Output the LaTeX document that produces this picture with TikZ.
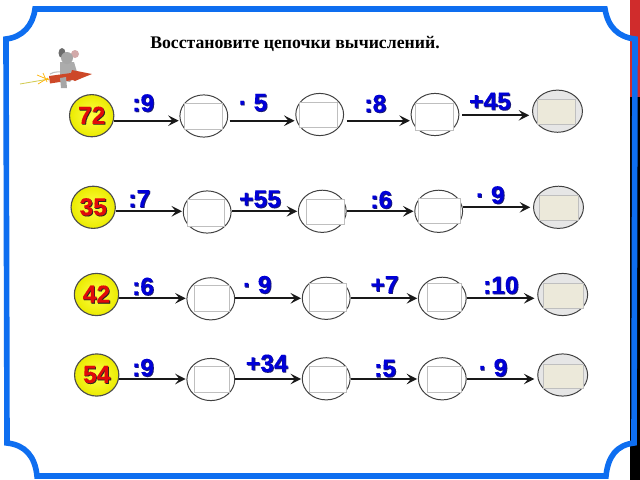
\documentclass[tikz,border=0pt]{standalone}
\usepackage{fontspec}
\setmainfont{Liberation Serif}
\newfontfamily\labelfont[FakeBold=0.25]{Liberation Sans Bold}
\usetikzlibrary{arrows.meta,shapes.geometric}
\definecolor{frameblue}{RGB}{14,110,240}
\definecolor{opblue}{RGB}{0,0,215}
\definecolor{opshade}{RGB}{30,30,110}
\definecolor{numred}{RGB}{225,10,10}
\definecolor{stripred}{RGB}{208,44,44}
\definecolor{rocketred}{RGB}{205,72,40}
\definecolor{greycell}{RGB}{230,230,230}
\definecolor{sandbox}{RGB}{236,233,218}
\tikzset{
	x=0.025cm, y=-0.025cm,
	startball/.style={ellipse, draw=black!70, line width=0.8pt, inner color=yellow!72!white, outer color=yellow!92!black, minimum width=31.5pt, minimum height=30pt, inner sep=0pt, font=\labelfont\fontsize{17.5}{17.5}\selectfont, text=numred},
	emptycell/.style={ellipse, draw=black!75, line width=0.7pt, fill=white, minimum width=34pt, minimum height=30pt, inner sep=0pt},
	lastcell/.style={emptycell, fill=greycell, minimum width=35.5pt},
	answerbox/.style={draw=black!25, line width=0.6pt, anchor=north west, inner sep=0pt},
	oplabel/.style={font=\labelfont\fontsize{17.5}{17.5}\selectfont, text=opblue, inner sep=0pt},
	link/.style={-{Stealth[length=7.5pt,width=7.5pt,inset=3pt]}, line width=1.7pt, black!90, shorten >=0.5pt}
}
\newcommand{\shadowed}[2]{\leavevmode\rlap{\kern0.6pt\raisebox{-0.6pt}{\textcolor{#1}{#2}}}#2}
% {box name}{x}{y}{width}{height}{fill}
\newcommand{\answer}[6]
{
	\node [answerbox, fill=#6, minimum width=#4*0.7113pt, minimum height=#5*0.7113pt] (#1) at (#2,#3) {};
}
% {from}{to}{y}
\newcommand{\link}[4][]
{
	\draw [link, #1] (#2.east |- 0,#4) -- (#3.west |- 0,#4);
}
\begin{document}
\begin{tikzpicture}
	\useasboundingbox (0,0) rectangle (640,480);

	% strip on the right
	\fill [stripred] (630,0) rectangle (640,96.5);
	\fill [black] (630,96.5) rectangle (640,480);

	% frame
	\draw [frameblue, line width=4pt] (35,9) -- (605,9)
		.. controls (608,27) and (618,37) .. (635,39) -- (634,443)
		.. controls (617,445) and (608,456) .. (606,476) -- (37,476)
		.. controls (35,456) and (25,445) .. (7,443) -- (6,39)
		.. controls (23,37) and (33,25) .. (35,9) -- cycle;

	\node [font=\bfseries\fontsize{12.6}{14}\selectfont, inner sep=0pt] (title) at (295,44) {Восстановите цепочки вычислений.};

	% rocket and mouse
	\draw [yellow!60!gray, line width=0.6pt] (20,84) -- (49,79);
	\draw [orange!60!yellow, line width=0.5pt] (37,75) -- (49,80) (38,84) -- (48,78) (43,73) -- (47,82);
	\draw [gray!50, line width=0.8pt] (50,74) .. controls (55,71) and (60,72) .. (66,72);
	\fill [gray!65] (60,62) -- (74,62) -- (77,72) -- (70,82) -- (60,80) -- cycle;
	\fill [gray!85!black] (62,53) ellipse (3.5 and 5);
	\fill [gray!35!pink] (75,54) ellipse (4 and 4);
	\fill [gray!70] (67,58) ellipse (6 and 6);
	\fill [rocketred] (49,76) -- (71,73) -- (72,70) -- (82,72) -- (92,74) -- (82,78) -- (75,81) -- (73,80) -- (50,83.5) -- cycle;
	\fill [gray!70] (60,78) -- (66,77) -- (67,88) -- (61,88) -- cycle;

	% row 1
	\node [startball] (s1) at (91.7,115.7) {\shadowed{black!85}{72}};
	\node [emptycell] (a1) at (203.8,116) {};
	\node [emptycell] (b1) at (319.7,114.5) {};
	\node [emptycell] (c1) at (435,114.5) {};
	\node [lastcell] (d1) at (557.5,111.2) {};
	\answer{p1}{184}{102.7}{38}{26.6}{white}
	\answer{q1}{299}{102}{37.7}{25}{white}
	\answer{r1}{415}{103}{37.7}{27}{white}
	\answer{t1}{537.3}{99}{37.7}{25.3}{sandbox}
	\link{s1}{a1}{120.7}
	\link[shorten <=1pt]{a1}{b1}{120.7}
	\link[shorten <=2pt]{b1}{c1}{120.7}
	\link[shorten <=2pt, shorten >=2pt]{c1}{d1}{115.3}

	% row 2
	\node [startball] (s2) at (93.2,207.3) {\shadowed{black!85}{35}};
	\node [emptycell] (a2) at (207.2,212) {};
	\node [emptycell] (b2) at (322.3,211.3) {};
	\node [emptycell] (c2) at (438.7,211.3) {};
	\node [lastcell] (d2) at (558.5,207.3) {};
	\answer{p2}{187.3}{199.3}{36.7}{26.4}{white}
	\answer{q2}{305.7}{199.3}{38.3}{24.7}{white}
	\answer{r2}{418.3}{198.3}{41.7}{25}{white}
	\answer{t2}{539}{195}{39.3}{25}{sandbox}
	\link{s2}{a2}{211.3}
	\link{a2}{b2}{211.3}
	\link{b2}{c2}{211.3}
	\link[shorten >=2pt]{c2}{d2}{207.3}

	% row 3
	\node [startball] (s3) at (96.5,294.5) {\shadowed{black!85}{42}};
	\node [emptycell] (a3) at (210.8,298.8) {};
	\node [emptycell] (b3) at (326.2,298.3) {};
	\node [emptycell] (c3) at (442.3,298.3) {};
	\node [lastcell] (d3) at (562.7,294.5) {};
	\answer{p3}{194.3}{285}{35}{25.7}{white}
	\answer{q3}{309.3}{283.3}{36.4}{27.4}{white}
	\answer{r3}{426.7}{283.3}{34}{27.4}{white}
	\answer{t3}{543.3}{283.3}{40}{25}{sandbox}
	\link{s3}{a3}{298.3}
	\link{a3}{b3}{298.3}
	\link{b3}{c3}{298.3}
	\link[shorten >=2pt]{c3}{d3}{298.3}

	% row 4
	\node [startball] (s4) at (96.7,375) {\shadowed{black!85}{54}};
	\node [emptycell] (a4) at (210.8,379.5) {};
	\node [emptycell] (b4) at (326.2,378.8) {};
	\node [emptycell] (c4) at (442.3,378.8) {};
	\node [lastcell] (d4) at (562.7,375) {};
	\answer{p4}{194.3}{365.7}{35}{26}{white}
	\answer{q4}{309.3}{365.7}{36.4}{26}{white}
	\answer{r4}{426.7}{365.7}{34}{26}{white}
	\answer{t4}{543.3}{364}{40}{24.3}{sandbox}
	\link{s4}{a4}{379}
	\link{a4}{b4}{379}
	\link{b4}{c4}{379}
	\link[shorten >=2pt]{c4}{d4}{379}

	% operations
	\node [oplabel] (o11) at (143.3,103.3) {\shadowed{opshade}{:9}};
	\node [oplabel] (o12) at (253,103) {\shadowed{opshade}{· 5}};
	\node [oplabel] (o13) at (375.3,104) {\shadowed{opshade}{:8}};
	\node [oplabel] (o14) at (490,101.7) {\shadowed{opshade}{+45}};
	\node [oplabel] (o21) at (139.3,199) {\shadowed{opshade}{:7}};
	\node [oplabel] (o22) at (260,199.3) {\shadowed{opshade}{+55}};
	\node [oplabel] (o23) at (381.3,200) {\shadowed{opshade}{:6}};
	\node [oplabel] (o24) at (490.3,195.3) {\shadowed{opshade}{· 9}};
	\node [oplabel] (o31) at (143,286.7) {\shadowed{opshade}{:6}};
	\node [oplabel] (o32) at (257.2,285) {\shadowed{opshade}{· 9}};
	\node [oplabel] (o33) at (384.5,285) {\shadowed{opshade}{+7}};
	\node [oplabel] (o34) at (500.8,285.5) {\shadowed{opshade}{:10}};
	\node [oplabel] (o41) at (143,368) {\shadowed{opshade}{:9}};
	\node [oplabel] (o42) at (266.8,363.7) {\shadowed{opshade}{+34}};
	\node [oplabel] (o43) at (385,368.7) {\shadowed{opshade}{:5}};
	\node [oplabel] (o44) at (493,368) {\shadowed{opshade}{· 9}};
\end{tikzpicture}
\end{document}
